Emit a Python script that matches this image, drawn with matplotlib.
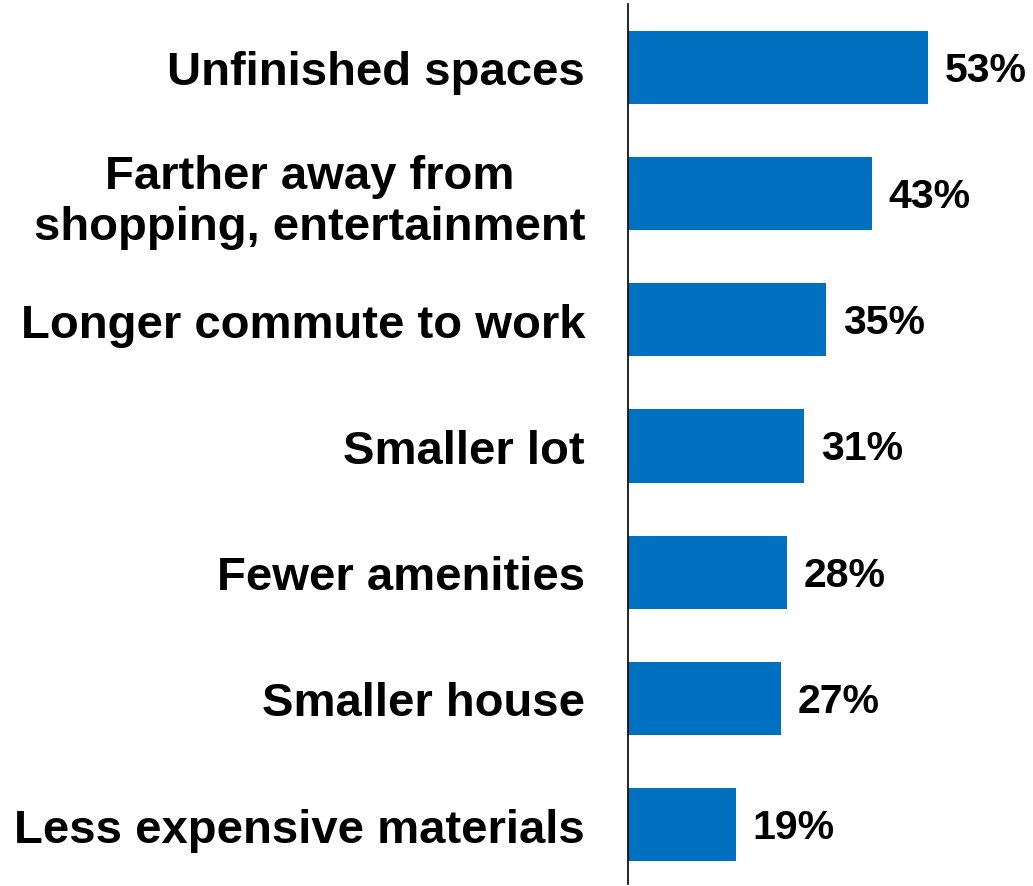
import matplotlib

matplotlib.use("Agg", force=True)
import matplotlib.pyplot as plt

categories = [
    "Unfinished spaces",
    "Farther away from\nshopping, entertainment",
    "Longer commute to work",
    "Smaller lot",
    "Fewer amenities",
    "Smaller house",
    "Less expensive materials",
]
values = [53, 43, 35, 31, 28, 27, 19]

plt.rcParams["font.family"] = ["Liberation Sans", "DejaVu Sans"]

fig = plt.figure(figsize=(10.33, 8.87), dpi=100)
ax = fig.add_axes([0.608, 0.0023, 0.392, 0.992])

positions = list(range(len(categories)))
ax.barh(positions, values, height=0.58, color="#0070C0")

for y, v in zip(positions, values):
    ax.text(v + 3, y + 0.02, f"{v}%", va="center", ha="left",
            fontsize=29.5, fontweight="bold", color="black")

ax.set_xlim(0, 71.5)
ax.set_ylim(6.47, -0.5)
ax.set_yticks(positions)
ax.set_yticklabels(categories, fontsize=34, fontweight="bold", linespacing=1.2)
for lbl in ax.get_yticklabels():
    lbl.set_multialignment("center")
ax.tick_params(axis="y", length=0, pad=31)
ax.set_xticks([])

for side in ("top", "right", "bottom"):
    ax.spines[side].set_visible(False)
ax.spines["left"].set_linewidth(1.2)
ax.spines["left"].set_color("black")

fig.savefig("out.png", dpi=100)
plt.close(fig)
